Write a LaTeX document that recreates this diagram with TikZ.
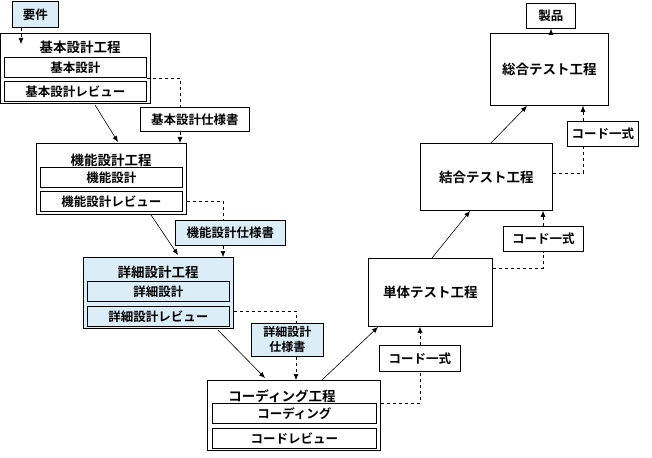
\documentclass[tikz,border=0pt]{standalone}
\usepackage{fontspec}
\setmainfont{Noto Sans CJK JP}[BoldFont={Noto Sans CJK JP Bold}]
\usetikzlibrary{arrows.meta}
\definecolor{lb}{RGB}{219,238,248}
\begin{document}
\begin{tikzpicture}[x=1pt,y=-1pt,
 box/.style={draw,line width=0.8pt,anchor=north west,inner sep=0pt,font=\bfseries\fontsize{12.5}{13}\selectfont},
 bl/.style={box,fill=lb},
 ttl/.style={font=\bfseries\fontsize{13.5}{14}\selectfont,inner sep=0pt},
 sol/.style={-{Latex[length=6pt,width=5pt]},line width=0.6pt},
 dsh/.style={dashed,line width=0.6pt},
 dsha/.style={dsh,-{Latex[length=6pt,width=5pt]}}]
\useasboundingbox (0,0) rectangle (652,457);
% requirement
\node[bl,minimum width=46,minimum height=26] (req) at (12,1) {要件};
% basic design
\node[box,minimum width=150,minimum height=70] (kb) at (0,33) {};
\node[ttl] (kbt) at (80,47) {基本設計工程};
\node[box,minimum width=142,minimum height=20] (kb1) at (4,57) {基本設計};
\node[box,minimum width=142,minimum height=20] (kb2) at (4,81) {基本設計レビュー};
\node[box,minimum width=109,minimum height=24] (kbs) at (140,107) {基本設計仕様書};
% functional
\node[box,minimum width=150,minimum height=71] (kn) at (36,143) {};
\node[ttl] (knt) at (111,160) {機能設計工程};
\node[box,minimum width=142,minimum height=20] (kn1) at (40,167) {機能設計};
\node[box,minimum width=142,minimum height=20] (kn2) at (40,191) {機能設計レビュー};
\node[bl,minimum width=110,minimum height=25] (kns) at (175,220) {機能設計仕様書};
% detailed
\node[bl,minimum width=150,minimum height=71] (sh) at (83,257) {};
\node[ttl] (sht) at (158,272) {詳細設計工程};
\node[bl,minimum width=142,minimum height=20] (sh1) at (87,281) {詳細設計};
\node[bl,minimum width=142,minimum height=20] (sh2) at (87,306) {詳細設計レビュー};
\node[bl,minimum width=72,minimum height=33,align=center,font=\bfseries\fontsize{12}{15}\selectfont] (shs) at (251,323) {詳細設計\\仕様書};
% coding
\node[box,minimum width=173,minimum height=70] (cd) at (207,380) {};
\node[ttl] (cdt) at (282,396) {コーディング工程};
\node[box,minimum width=164,minimum height=20] (cd1) at (212,403) {コーディング};
\node[box,minimum width=164,minimum height=20] (cd2) at (212,428) {コードレビュー};
% tests
\node[box,minimum width=124,minimum height=68,font=\bfseries\fontsize{13.5}{14}\selectfont] (ut) at (368,258) {単体テスト工程};
\node[box,minimum width=81,minimum height=26] (c1) at (379,345) {コード一式};
\node[box,minimum width=132,minimum height=67,font=\bfseries\fontsize{13.5}{14}\selectfont] (it) at (420,143) {結合テスト工程};
\node[box,minimum width=80,minimum height=25] (c2) at (503,226) {コード一式};
\node[box,minimum width=118,minimum height=72,font=\bfseries\fontsize{13.5}{14}\selectfont] (st) at (490,33) {総合テスト工程};
\node[box,minimum width=71,minimum height=25] (c3) at (567,121) {コード一式};
\node[box,minimum width=49,minimum height=25] (pr) at (526,3) {製品};
% arrows
\draw[dsha] (req.south -| 21,0) -- (21,44);
\draw[sol] (95,105) -- (118,142);
\draw[dsh] (kb2.east |- 0,78) -| (kbs.north -| 180,0);
\draw[dsha] (kbs.south -| 180,0) -- (kn.north -| 180,0);
\draw[sol] (151,215) -- (178,255);
\draw[dsh] (kn.east |- 0,201) -| (kns.north -| 223,0);
\draw[dsha] (kns.south -| 223,0) -- (sh.north -| 223,0);
\draw[sol] (218,330) -- (265,378);
\draw[dsh] (sh.east |- 0,311) -| (shs.north -| 296,0);
\draw[dsha] (shs.south -| 296,0) -- (cd.north -| 296,0);
\draw[sol] (322,380) -- (378,327);
\draw[dsh] (cd.east |- 0,403) -| (c1.south -| 420,0);
\draw[dsha] (c1.north -| 420,0) -- (ut.south -| 420,0);
\draw[sol] (432,258) -- (470,211);
\draw[dsh] (ut.east |- 0,268) -| (c2.south -| 543,0);
\draw[dsha] (c2.north -| 543,0) -- (it.south -| 543,0);
\draw[sol] (491,143) -- (527,106);
\draw[dsh] (it.east |- 0,173) -| (c3.south -| 583,0);
\draw[dsha] (c3.north -| 583,0) -- (st.south -| 583,0);
\draw[dsha] (st.north -| 551,0) -- (pr.south -| 551,0);
\end{tikzpicture}
\end{document}
